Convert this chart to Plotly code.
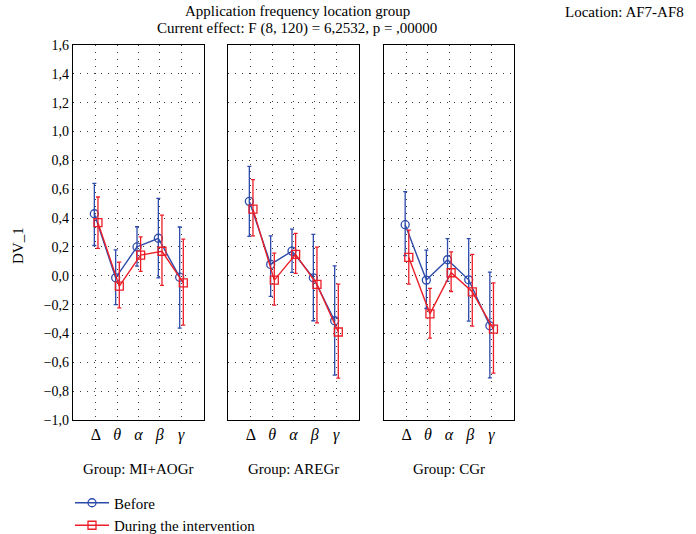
import plotly.graph_objects as go

categories = ["Δ", "<i>θ</i>", "<i>α</i>", "<i>β</i>", "<i>γ</i>"]
groups = ["Group: MI+AOGr", "Group: AREGr", "Group: CGr"]
ytick_vals = [-1.0, -0.8, -0.6, -0.4, -0.2, 0.0, 0.2, 0.4, 0.6, 0.8, 1.0, 1.2, 1.4, 1.6]
ytick_text = ["−1,0", "−0,8", "−0,6", "−0,4", "−0,2", "0,0", "0,2", "0,4", "0,6", "0,8", "1,0", "1,2", "1,4", "1,6"]

# Before (blue) per group: mean, upper, lower
before_mean = [
    [0.43, -0.014, 0.20, 0.26, -0.01],
    [0.516, 0.079, 0.171, -0.014, -0.312],
    [0.354, -0.03, 0.111, -0.028, -0.347],
]
before_upper = [
    [0.64, 0.18, 0.34, 0.536, 0.338],
    [0.758, 0.277, 0.324, 0.287, 0.069],
    [0.583, 0.178, 0.257, 0.257, 0.025],
]
before_lower = [
    [0.21, -0.20, 0.067, -0.014, -0.363],
    [0.273, -0.143, 0.023, -0.312, -0.689],
    [0.139, -0.227, -0.039, -0.314, -0.708],
]
# During the intervention (red)
during_mean = [
    [0.368, -0.072, 0.143, 0.17, -0.049],
    [0.462, -0.03, 0.148, -0.06, -0.39],
    [0.127, -0.264, 0.021, -0.111, -0.37],
]
during_upper = [
    [0.546, 0.095, 0.27, 0.42, 0.254],
    [0.666, 0.157, 0.294, 0.199, -0.058],
    [0.317, -0.088, 0.166, 0.148, -0.049],
]
during_lower = [
    [0.19, -0.222, 0.03, -0.067, -0.342],
    [0.277, -0.203, 0.016, -0.326, -0.71],
    [-0.058, -0.432, -0.109, -0.349, -0.675],
]

BLUE = "rgb(45,75,170)"
RED = "rgb(235,30,40)"
FONT = "Liberation Serif"

fig = go.Figure()
x_domains = [[73/696, 204/696], [228/696, 359/696], [384/696, 514/696]]
y_domain = [1 - 420/534, 1 - 45/534]
xpos = list(range(len(categories)))

for g in range(3):
    sfx = "" if g == 0 else str(g + 1)
    for name, mean, up, lo, col, sym, off in [
        ("Before", before_mean[g], before_upper[g], before_lower[g], BLUE, "circle-open", -0.07),
        ("During the intervention", during_mean[g], during_upper[g], during_lower[g], RED, "square-open", 0.1),
    ]:
        fig.add_trace(go.Scatter(
            x=[p + off for p in xpos], y=mean, mode="lines+markers", name=name,
            legendgroup=name, showlegend=(g == 0),
            line=dict(color=col, width=1.4),
            marker=dict(symbol=sym, size=8, color=col, line=dict(width=1.3, color=col)),
            error_y=dict(type="data", symmetric=False,
                         array=[u - m for u, m in zip(up, mean)],
                         arrayminus=[m - l for m, l in zip(mean, lo)],
                         color=col, thickness=1.3, width=2),
            xaxis="x" + sfx, yaxis="y" + sfx,
        ))
    common_x = dict(domain=x_domains[g], range=[-1.07, 5.07], anchor="y" + sfx,
                    tickvals=xpos, ticktext=categories, showgrid=True,
                    gridcolor="rgb(60,60,60)", griddash="1px,6px", gridwidth=1,
                    showline=True, linecolor="black", linewidth=1.2, mirror=True,
                    ticks="", zeroline=False, automargin=False,
                    tickfont=dict(family=FONT, size=16, color="black"))
    common_y = dict(domain=y_domain, range=[-1.0, 1.6], anchor="x" + sfx,
                    tickvals=ytick_vals, ticktext=ytick_text, showgrid=True,
                    gridcolor="rgb(60,60,60)", griddash="1px,6px", gridwidth=1,
                    showline=True, linecolor="black", linewidth=1.2, mirror=True,
                    ticks="", zeroline=False, showticklabels=(g == 0), automargin=False,
                    tickfont=dict(family=FONT, size=14, color="black"))
    fig.update_layout(**{"xaxis" + sfx: common_x, "yaxis" + sfx: common_y})
    fig.add_annotation(text=groups[g], x=(x_domains[g][0] + x_domains[g][1]) / 2,
                       y=1 - 469/534, xref="paper", yref="paper", showarrow=False,
                       xanchor="center", yanchor="middle",
                       font=dict(family=FONT, size=15, color="black"))

def note(text, x, y, angle=0):
    fig.add_annotation(text=text, x=x/696, y=1 - y/534, textangle=angle,
                       xref="paper", yref="paper", showarrow=False,
                       xanchor="center", yanchor="middle",
                       font=dict(family=FONT, size=15, color="black"))

note("Application frequency location group", 297, 11)
note("Current effect: F (8, 120) = 6,2532, p = ,00000", 297, 28)
note("Location: AF7-AF8", 624, 12)
note("DV_1", 18, 246, -90)

fig.update_layout(
    width=696, height=534, margin=dict(l=0, r=0, t=0, b=0, autoexpand=False),
    paper_bgcolor="white", plot_bgcolor="white",
    showlegend=True,
    legend=dict(x=70/696, y=-0.014, xanchor="left", yanchor="bottom",
                font=dict(family=FONT, size=15, color="black"),
                bgcolor="rgba(0,0,0,0)", tracegroupgap=0, itemwidth=34),
)

fig.write_html("out.html")
